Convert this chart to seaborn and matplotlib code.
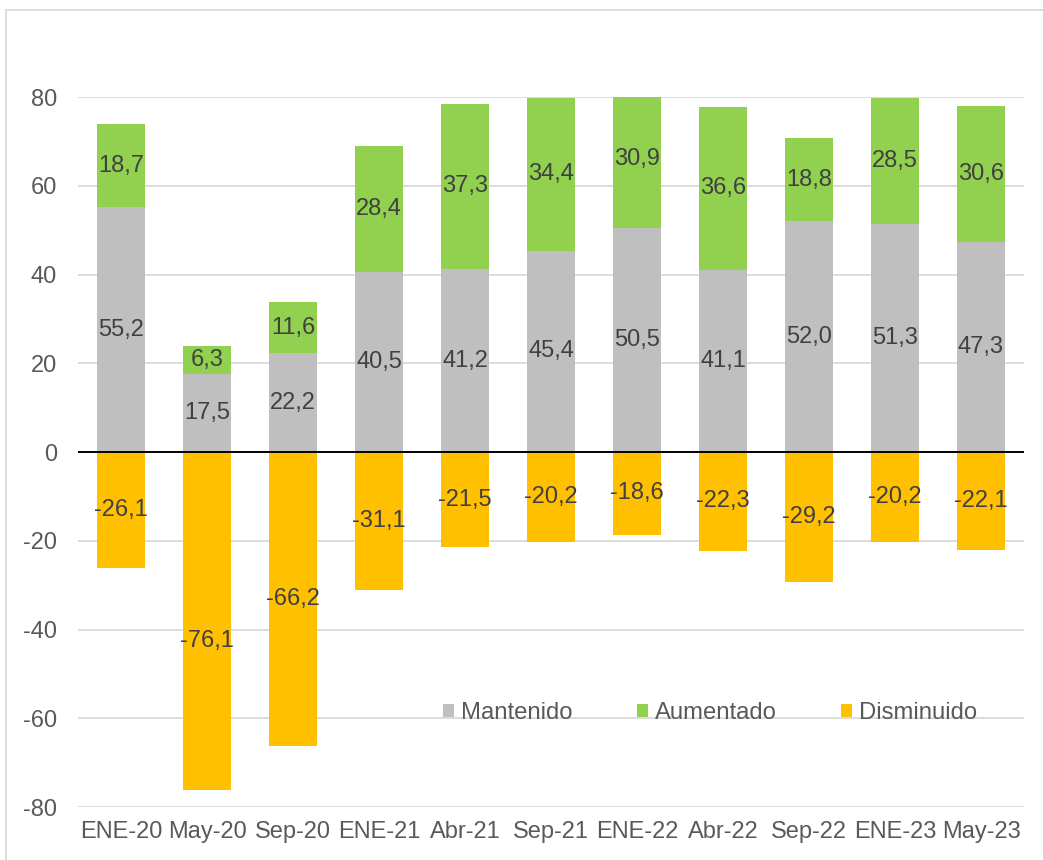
import matplotlib
matplotlib.use("Agg")
import matplotlib.pyplot as plt
import seaborn as sns
import pandas as pd
from matplotlib.patches import Patch
from matplotlib.lines import Line2D

categories = ["ENE-20", "May-20", "Sep-20", "ENE-21", "Abr-21", "Sep-21",
              "ENE-22", "Abr-22", "Sep-22", "ENE-23", "May-23"]
mantenido = [55.2, 17.5, 22.2, 40.5, 41.2, 45.4, 50.5, 41.1, 52.0, 51.3, 47.3]
aumentado = [18.7, 6.3, 11.6, 28.4, 37.3, 34.4, 30.9, 36.6, 18.8, 28.5, 30.6]
disminuido = [-26.1, -76.1, -66.2, -31.1, -21.5, -20.2, -18.6, -22.3, -29.2, -20.2, -22.1]

c_gray = "#BFBFBF"
c_green = "#92D050"
c_yellow = "#FFC000"
txt = "#404040"
tick_c = "#595959"
fs = 17.0
fs_leg = 17.2

sns.set_theme(style="white")
plt.rcParams["font.family"] = ["Liberation Sans", "DejaVu Sans"]
plt.rcParams["axes.unicode_minus"] = False

df = pd.DataFrame({"cat": categories, "m": mantenido, "a": aumentado, "d": disminuido})
df["tot"] = df["m"] + df["a"]

fig = plt.figure(figsize=(10.43, 8.6), dpi=100)
ax = fig.add_axes([78/1043, 1-807/860, (1024-78)/1043, (807-97)/860])

w = 0.56
sns.barplot(data=df, x="cat", y="tot", color=c_green, width=w, ax=ax, saturation=1, edgecolor="none", zorder=2)
sns.barplot(data=df, x="cat", y="m", color=c_gray, width=w, ax=ax, saturation=1, edgecolor="none", zorder=2)
sns.barplot(data=df, x="cat", y="d", color=c_yellow, width=w, ax=ax, saturation=1, edgecolor="none", zorder=2)

ax.set_ylim(-80, 80)
ax.set_xlim(-0.5, len(categories) - 0.5)
ax.set_yticks(range(-80, 81, 20))
ax.yaxis.grid(True, color="#D9D9D9", linewidth=1.3, zorder=0)
ax.set_axisbelow(True)
ax.axhline(0, color="black", linewidth=1.4, zorder=3)
for s in ax.spines.values():
    s.set_visible(False)
ax.set_xlabel("")
ax.set_ylabel("")
ax.tick_params(axis="y", length=0, pad=15, labelsize=fs, labelcolor=tick_c)
ax.tick_params(axis="x", length=0, pad=10, labelsize=fs, labelcolor=tick_c)

def fmt(v):
    return f"{v:.1f}".replace(".", ",")

for i in range(len(categories)):
    m, a, d = mantenido[i], aumentado[i], disminuido[i]
    ax.text(i, m / 2, fmt(m), ha="center", va="center", fontsize=fs, color=txt, zorder=4)
    ax.text(i, m + a / 2, fmt(a), ha="center", va="center", fontsize=fs, color=txt, zorder=4)
    yd = d / 2
    if i == 1:
        yd = d / 2 - 4.5
    ax.text(i, yd, fmt(d), ha="center", va="center", fontsize=fs, color=txt, zorder=4)

handles = [Patch(facecolor=c_gray, edgecolor="none", label="Mantenido"),
           Patch(facecolor=c_green, edgecolor="none", label="Aumentado"),
           Patch(facecolor=c_yellow, edgecolor="none", label="Disminuido")]
leg = ax.legend(handles=handles, loc="center", bbox_to_anchor=(710/1043, 1-713/860),
                bbox_transform=fig.transFigure, ncol=3, frameon=False, fontsize=fs_leg,
                handlelength=0.46, handleheight=0.46, handletextpad=0.3, columnspacing=2.7,
                labelcolor=tick_c, borderpad=0, borderaxespad=0)

# outer chart border
x0, y0 = 6/1043, 1-10/860
fig.add_artist(Line2D([x0, x0], [0, y0], transform=fig.transFigure, color="#D9D9D9", linewidth=1.3))
fig.add_artist(Line2D([x0, 1], [y0, y0], transform=fig.transFigure, color="#D9D9D9", linewidth=1.3))

fig.savefig("out.png", dpi=100)
